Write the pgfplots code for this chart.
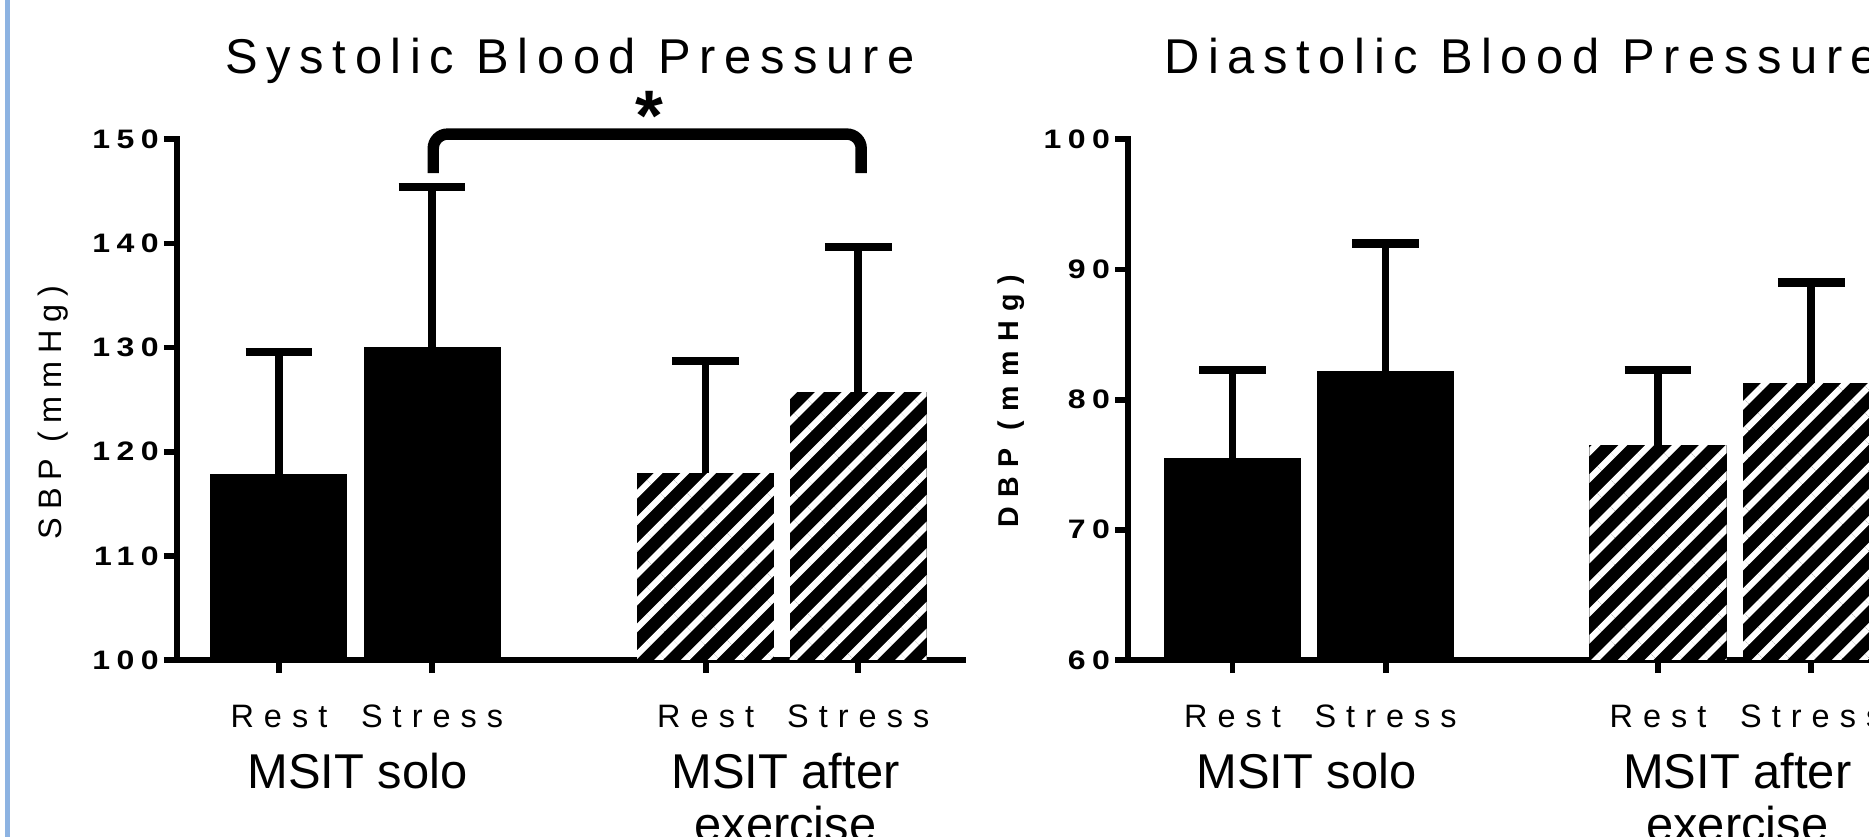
\documentclass[border=0pt]{standalone}
\usepackage{pgfplots}
\pgfplotsset{compat=1.18}
\usetikzlibrary{patterns.meta}
\usepackage{fontspec}
\setmainfont{Liberation Sans}
\newfontfamily\ttlfont[LetterSpace=17.7]{Liberation Sans}
\newfontfamily\tkfont[LetterSpace=20]{Liberation Sans Bold}
\newfontfamily\catfont[LetterSpace=31]{Liberation Sans}
\newfontfamily\ylfont[LetterSpace=24]{Liberation Sans}
\newfontfamily\dylfont[LetterSpace=33]{Liberation Sans Bold}
\definecolor{slideblue}{RGB}{141,179,226}

\pgfplotsset{
  bpaxis/.style={
    scale only axis, width=164.875pt, height=109.2pt,
    xmin=0, xmax=659.5,
    axis lines*=left,
    axis line style={line width=1.2pt, line cap=rect, black},
    every tick/.style={line width=1.2pt, black},
    tick align=outside, major tick length=2.75pt,
    xticklabels={Rest,Stress,Rest,Stress},
    xticklabel style={font=\catfont\fontsize{6.8pt}{8pt}\selectfont, yshift=-3.2pt},
    yticklabel style={font=\tkfont\fontsize{5.6pt}{7pt}\selectfont, inner sep=0pt, xshift=-0.85pt, xscale=1.2},
    /pgf/number format/assume math mode=true,
    clip mode=individual,
    title style={font=\ttlfont\fontsize{10.25pt}{12pt}\selectfont, at={(0.5,1.071)}, anchor=base},
  },
  solidbar/.style={ybar, bar width=115, bar shift=0pt, fill=black, draw=none,
    error bars/y dir=plus, error bars/y explicit, error bars/error mark=|,
    error bars/error bar style={draw=black, line width=1.6pt},
    error bars/error mark options={draw=black, line width=1.7pt, mark size=7pt}},
  hatchbar/.style={solidbar,
    postaction={pattern={Lines[angle=45,distance=3.97pt,line width=1.3pt]}, pattern color=white}},
}

\begin{document}
\begin{tikzpicture}
\useasboundingbox (0,0) rectangle (392pt,175.5pt);
\clip (0,0) rectangle (392pt,175.5pt);
\fill[white] (0,0) rectangle (392pt,175.5pt);
\draw[slideblue, line width=1.1pt] (1.5pt,0) -- (1.5pt,175.5pt);

% Systolic
\begin{axis}[bpaxis, at={(37.125pt,37.075pt)}, anchor=south west,
  ymin=100, ymax=150, ytick={100,110,...,150},
  xtick={85.5,214,443.5,571.5},
  title={Systolic Blood Pressure},
  ylabel={SBP (mmHg)},
  ylabel style={font=\ylfont\fontsize{6.8pt}{8pt}\selectfont, at={(axis description cs:-0.157,0.475)}, anchor=center},
]
\addplot[solidbar] coordinates {(85.5,117.9) +- (0,11.7)};
\addplot[solidbar] coordinates {(214,130.1) +- (0,15.3)};
\addplot[hatchbar] coordinates {(443.5,118.0) +- (0,10.7)};
\addplot[hatchbar] coordinates {(571.5,125.7) +- (0,14.0)};
\draw[line width=2.4pt, rounded corners=3pt, line cap=butt]
  (axis cs:215,146.75) -- (axis cs:215,150.5) -- (axis cs:574,150.5) -- (axis cs:574,146.75);
\node[anchor=base, inner sep=0pt, font=\bfseries\fontsize{15pt}{18pt}\selectfont] at (axis cs:396.5,149.9) {*};
\node[anchor=base, inner sep=0pt, font=\fontsize{10.25pt}{12pt}\selectfont] at (axis cs:151.5,87.64) {MSIT solo};
\node[anchor=base, inner sep=0pt, font=\fontsize{10.25pt}{12pt}\selectfont] at (axis cs:510.5,87.64) {MSIT after};
\node[anchor=base, inner sep=0pt, font=\fontsize{10.25pt}{12pt}\selectfont] at (axis cs:510.5,82.6) {exercise};
\end{axis}

% Diastolic
\begin{axis}[bpaxis, at={(236.625pt,37.075pt)}, anchor=south west,
  ymin=60, ymax=100, ytick={60,70,...,100},
  xtick={87.5,216,444.5,573},
  title={Diastolic Blood Pressure},
  ylabel={DBP (mmHg)},
  ylabel style={font=\dylfont\fontsize{6pt}{7pt}\selectfont, at={(axis description cs:-0.149,0.497)}, anchor=center},
]
\addplot[solidbar] coordinates {(87.5,75.5) +- (0,6.8)};
\addplot[solidbar] coordinates {(216,82.2) +- (0,9.8)};
\addplot[hatchbar] coordinates {(444.5,76.5) +- (0,5.8)};
\addplot[hatchbar] coordinates {(573,81.3) +- (0,7.7)};
\node[anchor=base, inner sep=0pt, font=\fontsize{10.25pt}{12pt}\selectfont] at (axis cs:149.5,50.11) {MSIT solo};
\node[anchor=base, inner sep=0pt, font=\fontsize{10.25pt}{12pt}\selectfont] at (axis cs:511,50.11) {MSIT after};
\node[anchor=base, inner sep=0pt, font=\fontsize{10.25pt}{12pt}\selectfont] at (axis cs:511,46.08) {exercise};
\end{axis}
\end{tikzpicture}
\end{document}
